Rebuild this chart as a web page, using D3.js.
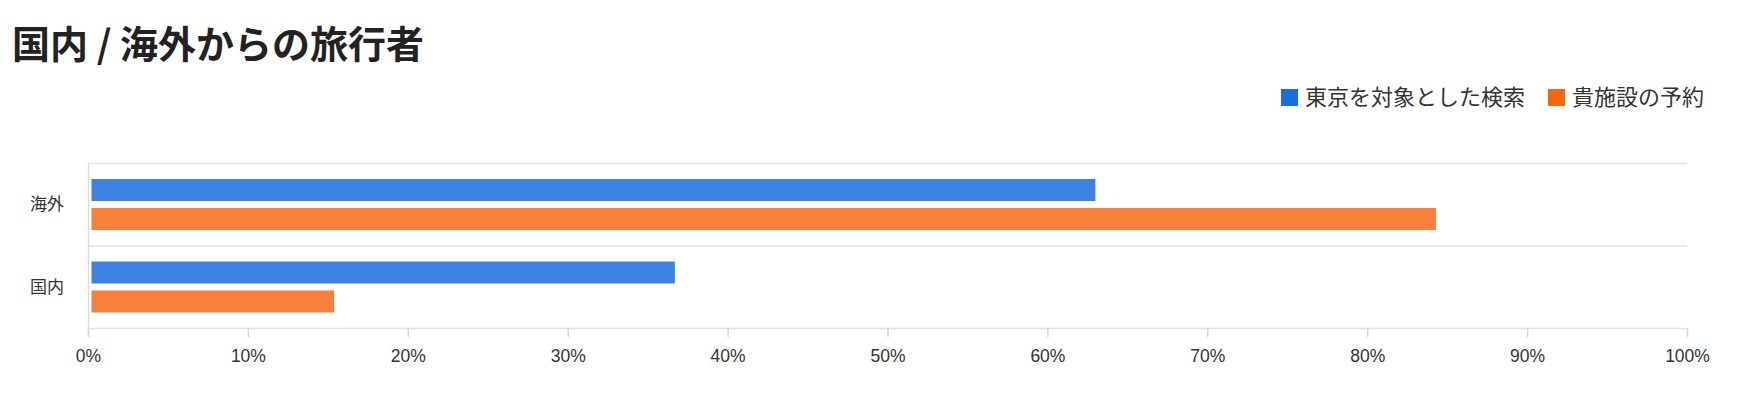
<!DOCTYPE html>
<html><head><meta charset="utf-8">
<script src="https://cdn.jsdelivr.net/npm/d3@7"></script>
<style>
html,body{margin:0;padding:0;background:#fff;}
svg{display:block;font-family:"Liberation Sans","Noto Sans CJK JP",sans-serif;}
</style></head>
<body><svg id="chart" width="1742" height="400"></svg>
<script>
const title = "国内 / 海外からの旅行者";
const categories = ["海外", "国内"];
const seriesNames = ["東京を対象とした検索", "貴施設の予約"];
const searchValues = [0.63, 0.367];
const bookingValues = [0.843, 0.154];
const tickValues = [0,0.1,0.2,0.3,0.4,0.5,0.6,0.7,0.8,0.9,1.0];

const barColors = ["#3b82e3", "#f7803d"];
const legendColors = ["#1a6fe0", "#f5660f"];

const svg = d3.select("#chart");
const x = d3.scaleLinear().domain([0,1]).range([88,1687]);
const y = d3.scaleBand().domain(categories).range([163,328]).padding(0);
const ySub = d3.scaleBand().domain(seriesNames).range([16, 67]).paddingInner(7/29).paddingOuter(0);
const color = d3.scaleOrdinal().domain(seriesNames).range(barColors);

// title
svg.append("text").attr("x",12).attr("y",58)
  .attr("font-family","'Noto Sans CJK JP',sans-serif").attr("font-weight",700)
  .attr("font-size",38).attr("fill","#222").text(title);

// legend
const legendX = [1281, 1548];
seriesNames.forEach((s,i)=>{
  const g = svg.append("g").attr("transform",`translate(${legendX[i]},89)`);
  g.append("rect").attr("width",17).attr("height",17).attr("fill",legendColors[i]);
  g.append("text").attr("x",24).attr("y",8.5).attr("dy","0.36em")
    .attr("font-family","'Noto Sans CJK JP',sans-serif")
    .attr("font-size",22).attr("fill","#333").text(s);
});

// gridlines (band boundaries)
const bounds = categories.map(c=>y(c)).concat([y.range()[1]]);
svg.append("g").selectAll("line").data(bounds).join("line")
  .attr("x1",x(0)).attr("x2",x(1)).attr("y1",d=>d+0.5).attr("y2",d=>d+0.5)
  .attr("stroke","#e2e2e2").attr("stroke-width",1.5);
svg.append("line").attr("x1",x(0)+0.5).attr("x2",x(0)+0.5)
  .attr("y1",y.range()[0]).attr("y2",y.range()[1]+9)
  .attr("stroke","#dcdcdc").attr("stroke-width",1.5);

// bars
const data = [];
categories.forEach((c,i)=>{
  data.push({cat:c, s:seriesNames[0], v:searchValues[i]});
  data.push({cat:c, s:seriesNames[1], v:bookingValues[i]});
});
svg.append("g").selectAll("rect").data(data).join("rect")
  .attr("x", x(0)+3.5)
  .attr("y", d=>y(d.cat)+ySub(d.s))
  .attr("width", d=>x(d.v)-x(0)-3.5)
  .attr("height", ySub.bandwidth())
  .attr("fill", d=>color(d.s));

// category labels
svg.append("g").selectAll("text").data(categories).join("text")
  .attr("x",64).attr("y",d=>y(d)+y.bandwidth()/2).attr("dy","0.36em")
  .attr("text-anchor","end")
  .attr("font-family","'Noto Sans CJK JP',sans-serif")
  .attr("font-size",17).attr("fill","#333").text(d=>d);

// x axis
const axis = svg.append("g").attr("transform",`translate(0,${y.range()[1]})`)
  .call(d3.axisBottom(x).tickValues(tickValues).tickFormat(d3.format(".0%")).tickSize(9).tickPadding(13));
axis.select(".domain").remove();
axis.selectAll(".tick line").attr("stroke","#d6d6d6").attr("stroke-width",1.5);
axis.selectAll(".tick text").attr("font-size",17.5).attr("fill","#333")
  .attr("font-family","'Liberation Sans',sans-serif");
</script>
</body></html>
